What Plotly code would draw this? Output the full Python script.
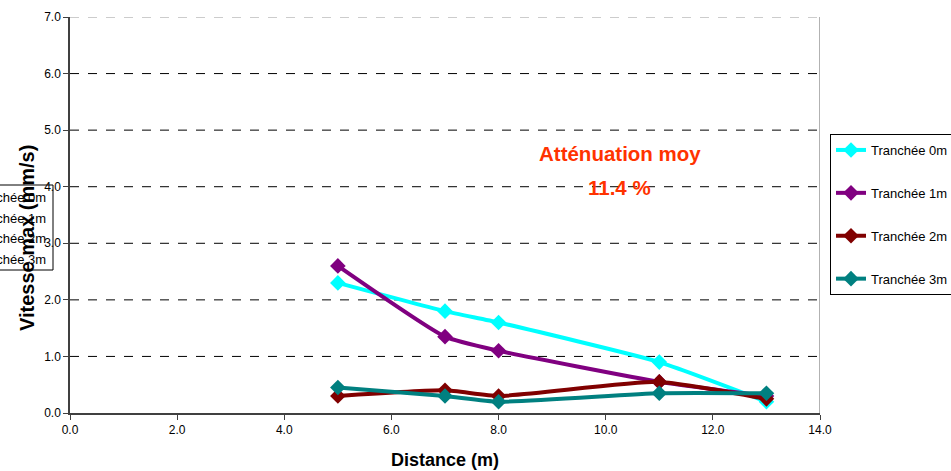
import plotly.graph_objects as go

distance = [5, 7, 8, 11, 13]
series_names = ["Tranchée 0m", "Tranchée 1m", "Tranchée 2m", "Tranchée 3m"]
v0 = [2.3, 1.8, 1.6, 0.9, 0.2]
v1 = [2.6, 1.35, 1.1, 0.55, 0.3]
v2 = [0.3, 0.4, 0.3, 0.55, 0.25]
v3 = [0.45, 0.3, 0.2, 0.35, 0.35]
colors = ["#00FFFF", "#800080", "#800000", "#008080"]
x_ticks = [0, 2, 4, 6, 8, 10, 12, 14]
y_ticks = [0, 1, 2, 3, 4, 5, 6, 7]

W, H = 951, 471
L, R, T, B = 70, 820, 17, 413
def px_x(p):
    return (p - L) / (R - L)
def px_y(p):
    return (B - p) / (B - T)

FONT = "Liberation Sans, Arial, sans-serif"
fig = go.Figure()
for name, vals, col in zip(series_names, [v0, v1, v2, v3], colors):
    fig.add_trace(go.Scatter(
        x=distance, y=vals, name=name, mode="lines+markers",
        line=dict(color=col, width=4, shape="spline", smoothing=0.5),
        marker=dict(symbol="diamond", size=12, color=col),
        legendgroup=name,
    ))

fig.update_layout(
    width=W, height=H,
    margin=dict(l=L, r=W - R, t=T, b=H - B, autoexpand=False),
    paper_bgcolor="white", plot_bgcolor="white",
    font=dict(family=FONT, size=12, color="black"),
    showlegend=True,
    legend=dict(x=px_x(830), y=px_y(134), xanchor="left", yanchor="top",
                bordercolor="black", borderwidth=1, bgcolor="white",
                font=dict(size=13, family=FONT), tracegroupgap=23,
                itemwidth=30),
    xaxis=dict(range=[0, 14], tickvals=x_ticks,
               ticktext=[f"{v:.1f}" for v in x_ticks],
               showgrid=False, zeroline=False, showline=True,
               linecolor="#404040", linewidth=1.5, ticks="outside",
               ticklen=5, tickcolor="#404040",
               title=dict(text="<b>Distance (m)</b>", font=dict(size=18), standoff=17)),
    yaxis=dict(range=[0, 7], tickvals=y_ticks,
               ticktext=[f"{v:.1f}" for v in y_ticks],
               showgrid=False, zeroline=False, showline=True,
               linecolor="#404040", linewidth=1.5, ticks="outside",
               ticklen=5, tickcolor="#404040"),
)

# dashed gridlines
for yv in y_ticks[1:]:
    fig.add_shape(type="line", xref="x", yref="y", x0=0, x1=14, y0=yv, y1=yv,
                  line=dict(color="#999999" if yv == 7 else "black", width=1, dash="dash"),
                  layer="below")
# right border
fig.add_shape(type="line", xref="x", yref="y", x0=14, x1=14, y0=0, y1=7,
              line=dict(color="#999999", width=1.5), layer="below")

# ghost legend box on left
fig.add_shape(type="rect", xref="paper", yref="paper",
              x0=px_x(-10), x1=px_x(53), y0=px_y(270), y1=px_y(185),
              line=dict(color="black", width=1), fillcolor="white", layer="below")
for name, yp in zip(series_names, [197, 218, 238, 259]):
    fig.add_annotation(x=px_x(48), y=px_y(yp), xref="paper", yref="paper",
                       text=name, showarrow=False, xanchor="right", yanchor="middle",
                       font=dict(size=13, family=FONT, color="black"))

# y-axis title
fig.add_annotation(x=px_x(27), y=px_y(238), xref="paper", yref="paper",
                   text="<b>Vitesse max (mm/s)</b>", showarrow=False, textangle=-90,
                   xanchor="center", yanchor="middle",
                   font=dict(size=20, family=FONT, color="black"))

fig.add_annotation(x=px_x(620), y=px_y(153), xref="paper", yref="paper",
                   text="<b>Atténuation moy</b>", showarrow=False,
                   xanchor="center", yanchor="middle",
                   font=dict(size=20.5, color="#FF3300", family=FONT))
fig.add_annotation(x=px_x(619), y=px_y(187), xref="paper", yref="paper",
                   text="<b>11.4 %</b>", showarrow=False,
                   xanchor="center", yanchor="middle",
                   font=dict(size=20.5, color="#FF3300", family=FONT))

fig.write_html("out.html")
